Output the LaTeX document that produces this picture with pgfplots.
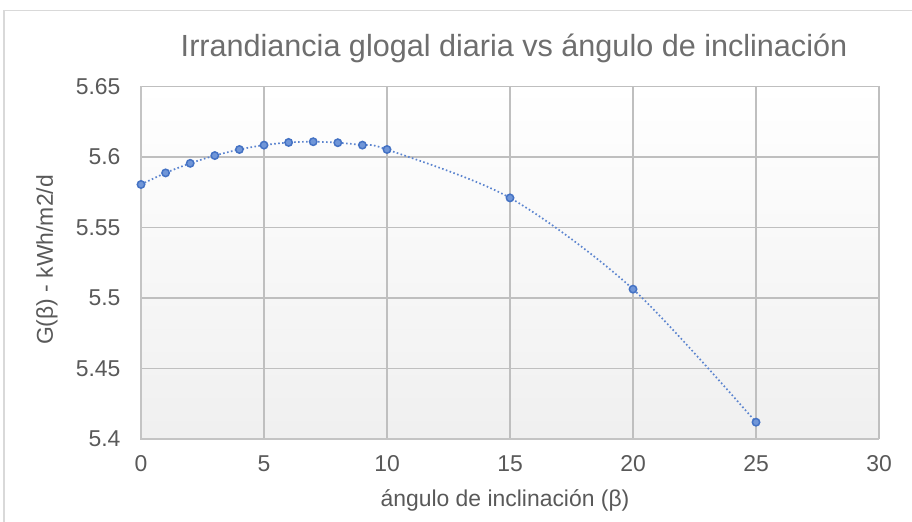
\documentclass[border=0pt]{standalone}
\usepackage{fontspec}
\setmainfont{Liberation Sans}
\usepackage{pgfplots}
\pgfplotsset{compat=1.18}
\definecolor{txt}{HTML}{595959}
\definecolor{ttl}{HTML}{6E6E6E}
\definecolor{grid}{HTML}{D9D9D9}
\definecolor{axl}{HTML}{C4C4C4}
\definecolor{ser}{HTML}{4472C4}
\definecolor{serline}{HTML}{5B84CF}
\definecolor{serfill}{HTML}{7096D8}
\definecolor{frame}{HTML}{D9D9D9}
\begin{document}
\begin{tikzpicture}[x=1bp,y=1bp]
\path[use as bounding box, fill=white] (0,0) rectangle (912,522);
\draw[frame, line width=1.5bp] (4,-5) -- (4,511.5) -- (920,511.5);
\begin{axis}[
  at={(141bp,83bp)}, anchor=south west,
  scale only axis, width=738bp, height=352.7bp,
  xmin=0, xmax=30, ymin=5.4, ymax=5.65,
  xtick={0,5,...,30},
  ytick={5.4,5.45,5.5,5.55,5.6,5.65},
  yticklabels={5.4,5.45,5.5,5.55,5.6,5.65},
  /pgf/number format/assume math mode=true,
  tick label style={font=\fontsize{23}{27}\selectfont, text=txt},
  yticklabel style={xshift=-17bp},
  xticklabel style={yshift=-13bp},
  major tick length=0pt,
  grid=major,
  major grid style={grid, line width=1.5bp},
  axis line style={draw=none},
  axis background/.style={shade, top color=white, bottom color=black!6},
  clip=false,
]
\addplot[serline, line width=1.7bp, dash pattern=on 1.6bp off 2.4bp, smooth, tension=0.5, mark=*, mark size=3.7bp,
  mark options={solid, fill=serfill, draw=ser, line width=1.5bp}]
  coordinates {
  (0,5.5804) (1,5.5886) (2,5.5954) (3,5.6009) (4,5.6052) (5,5.6083) (6,5.6102)
  (7,5.6107) (8,5.6100) (9,5.6083) (10,5.6052) (15,5.5709) (20,5.5062) (25,5.4119)
  };
\draw[axl, line width=1.5bp] (rel axis cs:0,1) -- (rel axis cs:0,0) -- (rel axis cs:1,0);
\end{axis}
\node[text=ttl, font=\fontsize{30.7}{36}\selectfont] at (514,474) {Irrandiancia glogal diaria vs ángulo de inclinación};
\node[text=txt, font=\fontsize{23}{27}\selectfont] at (505,22) {ángulo de inclinación (β)};
\node[text=txt, font=\fontsize{23}{27}\selectfont, rotate=90] at (47,262) {G(β) - kWh/m2/d};
\end{tikzpicture}
\end{document}
